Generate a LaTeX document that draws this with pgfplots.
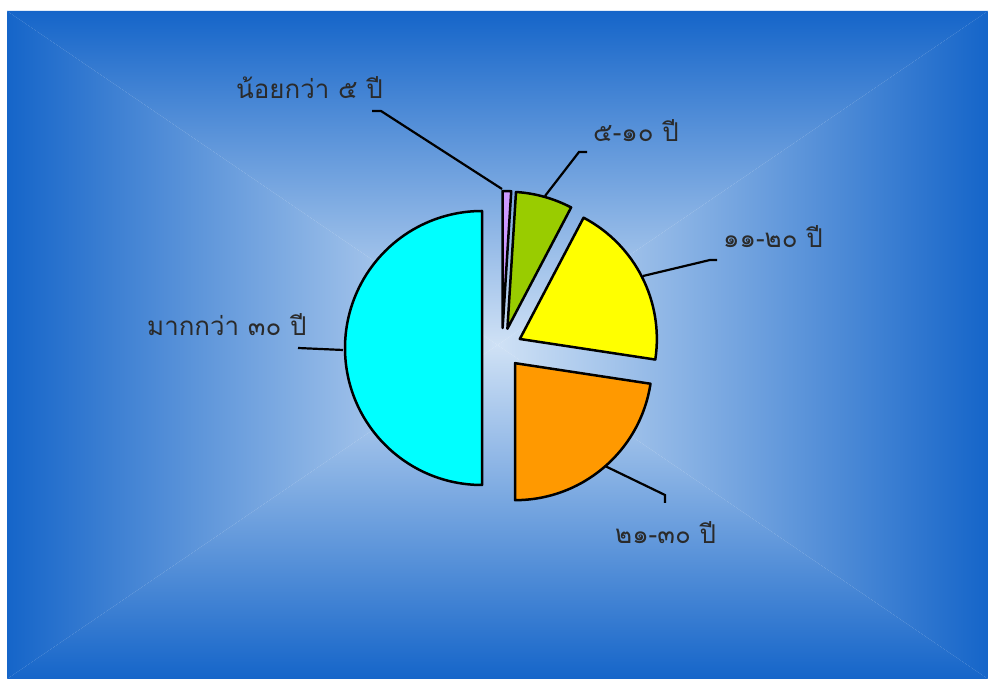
\documentclass[border=0pt]{standalone}
\usepackage{pgfplots}
\pgfplotsset{compat=1.18}
\usepackage{pgfplotstable}
\usepackage{fontspec}
\newfontfamily\thaifont[Script=Thai]{Loma}

\definecolor{edgeblue}{HTML}{1565C9}
\definecolor{midblue}{HTML}{CFE1F5}
\definecolor{labelgray}{HTML}{2A2A2A}
\definecolor{pieA}{HTML}{CC99FF}
\definecolor{pieB}{HTML}{99CC00}
\definecolor{pieC}{HTML}{FFFF00}
\definecolor{pieD}{HTML}{FF9900}
\definecolor{pieE}{HTML}{00FFFF}

\tikzset{
  lbl/.style={anchor=base west, inner sep=0pt, text=labelgray,
    font=\thaifont\fontsize{26}{30}\selectfont},
  lead/.style={draw=black, line width=2.2bp},
}

% share of each group, percent, clockwise from 12 o'clock
\pgfplotstableread{
value color
1.0   pieA
6.7   pieB
19.7  pieC
22.6  pieD
50.0  pieE
}\piedata

\begin{document}
\begin{tikzpicture}
\begin{axis}[
  x=1bp, y=1bp,
  xmin=0, xmax=988, ymin=0, ymax=679,
  hide axis, clip=false,
]
% background
\fill[white] (axis cs:0,0) rectangle (axis cs:988,679);
\shade[top color=edgeblue, bottom color=midblue]
  (axis cs:7,668) -- (axis cs:988,668) -- (axis cs:497.5,334) -- cycle;
\shade[bottom color=edgeblue, top color=midblue]
  (axis cs:7,0) -- (axis cs:988,0) -- (axis cs:497.5,334) -- cycle;
\shade[left color=edgeblue, right color=midblue]
  (axis cs:7,0) -- (axis cs:7,668) -- (axis cs:497.5,334) -- cycle;
\shade[right color=edgeblue, left color=midblue]
  (axis cs:988,0) -- (axis cs:988,668) -- (axis cs:497.5,334) -- cycle;

% slices
\def\cum{0}
\pgfplotsforeachungrouped \i in {0,...,4}{%
  \pgfplotstablegetelem{\i}{value}\of\piedata
  \pgfmathsetmacro\aStart{90-3.6*\cum}%
  \pgfmathsetmacro\cum{\cum+\pgfplotsretval}%
  \pgfmathsetmacro\aEnd{90-3.6*\cum}%
  \pgfmathsetmacro\aMid{(\aStart+\aEnd)/2}%
  \pgfplotstablegetelem{\i}{color}\of\piedata
  \let\col\pgfplotsretval
  \edef\tmp{\noexpand\filldraw[fill=\col, draw=black, line width=2.5bp, line join=round]
    ([shift={(\aMid:20bp)}]axis cs:502,331) -- +(\aStart:137bp)
    arc[start angle=\aStart, end angle=\aEnd, radius=137bp] -- cycle;}%
  \tmp
}

% leader lines
\draw[lead] (axis cs:502,490) -- (axis cs:381,568) -- (axis cs:372,568);
\draw[lead] (axis cs:545,483) -- (axis cs:579,527) -- (axis cs:587,527);
\draw[lead] (axis cs:643,403) -- (axis cs:710,419) -- (axis cs:717,419);
\draw[lead] (axis cs:605,213) -- (axis cs:665,184) -- (axis cs:665,176);
\draw[lead] (axis cs:343,329) -- (axis cs:298,331);

% labels
\node[lbl] at (axis cs:236,580) {น้อยกว่า ๕ ปี};
\node[lbl] at (axis cs:593,537) {๕-๑๐ ปี};
\node[lbl] at (axis cs:723,431) {๑๑-๒๐ ปี};
\node[lbl] at (axis cs:615,135) {๒๑-๓๐ ปี};
\node[lbl] at (axis cs:147,343) {มากกว่า ๓๐ ปี};
\end{axis}
\end{tikzpicture}
\end{document}
